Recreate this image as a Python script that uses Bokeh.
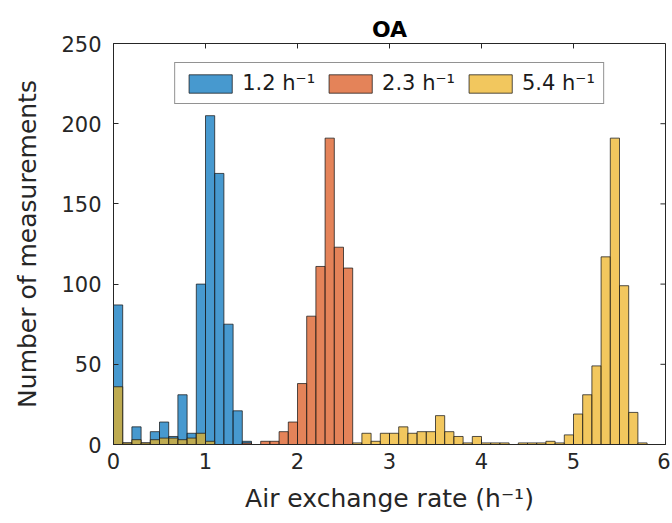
import numpy as np
from bokeh.plotting import figure
from bokeh.models import Range1d, FixedTicker, Legend, LegendItem, ColumnDataSource
from bokeh.embed import file_html
from bokeh.resources import INLINE

# Histogram bins: 0.0 .. 6.0 step 0.1 (60 bins)
bin_width = 0.1
bin_left = [round(i * bin_width, 1) for i in range(60)]

series_names = ["1.2 h\u207b\u00b9", "2.3 h\u207b\u00b9", "5.4 h\u207b\u00b9"]

counts_12 = [87, 1, 11, 1, 8, 14, 5, 31, 7, 100,
             205, 169, 75, 21, 2, 0, 0, 0, 0, 0,
             0, 0, 0, 0, 0, 0, 0, 0, 0, 0,
             0, 0, 0, 0, 0, 0, 0, 0, 0, 0,
             0, 0, 0, 0, 0, 0, 0, 0, 0, 0,
             0, 0, 0, 0, 0, 0, 0, 0, 0, 0]

counts_23 = [0, 0, 0, 0, 0, 0, 0, 0, 0, 0,
             0, 0, 0, 0, 1, 0, 2, 2, 8, 14,
             38, 80, 111, 191, 123, 110, 0, 0, 0, 0,
             0, 0, 0, 0, 0, 0, 0, 0, 0, 0,
             0, 0, 0, 0, 0, 0, 0, 0, 0, 0,
             0, 0, 0, 0, 0, 0, 0, 0, 0, 0]

counts_54 = [36, 1, 3, 1, 3, 4, 4, 3, 4, 7,
             2, 0, 0, 0, 0, 0, 0, 0, 0, 0,
             0, 0, 0, 0, 0, 0, 1, 7, 2, 7,
             7, 11, 7, 8, 8, 18, 8, 5, 1, 5,
             1, 1, 1, 0, 1, 1, 1, 2, 1, 6,
             19, 31, 49, 117, 191, 99, 20, 1, 0, 0]

x_ticks = [0, 1, 2, 3, 4, 5, 6]
y_ticks = [0, 50, 100, 150, 200, 250]

colors = ["#0072BD", "#D95319", "#EDB120"]
FONT = "DejaVu Sans"
AX = "#262626"

p = figure(width=670, height=518, output_backend="svg", toolbar_location=None,
           x_range=Range1d(x_ticks[0], x_ticks[-1]), y_range=Range1d(y_ticks[0], y_ticks[-1]),
           min_border_left=113, min_border_right=5, min_border_top=43, min_border_bottom=74)

p.background_fill_color = "white"
p.border_fill_color = "white"
p.xgrid.visible = False
p.ygrid.visible = False
p.outline_line_color = AX
p.outline_line_width = 1

left = np.array(bin_left)
items = []
for name, counts, col in zip(series_names, [counts_12, counts_23, counts_54], colors):
    src = ColumnDataSource(dict(left=left, right=left + bin_width, top=counts, bottom=[0] * len(counts)))
    r = p.quad(left="left", right="right", top="top", bottom="bottom", source=src,
               fill_color=col, fill_alpha=0.72, line_color="#1a1a1a", line_alpha=0.75, line_width=1)
    items.append(LegendItem(label=name, renderers=[r]))

legend = Legend(items=items, orientation="horizontal", location="top_center")
legend.label_text_font = FONT
legend.label_text_font_size = "21px"
legend.label_text_color = "#1a1a1a"
legend.glyph_width = 54
legend.glyph_height = 23
legend.label_standoff = 5
legend.spacing = 8
legend.padding = 8
legend.margin = 19
legend.border_line_color = AX
legend.border_line_width = 1
legend.background_fill_alpha = 1
p.add_layout(legend, "center")

for ax in [p.xaxis[0], p.yaxis[0]]:
    ax.major_label_text_font = FONT
    ax.major_label_text_font_size = "21px"
    ax.major_label_text_color = AX
    ax.axis_label_text_font = FONT
    ax.axis_label_text_font_size = "25px"
    ax.axis_label_text_font_style = "normal"
    ax.axis_label_text_color = AX
    ax.axis_line_color = AX
    ax.major_tick_line_color = AX
    ax.major_tick_in = 5
    ax.major_tick_out = 0
    ax.minor_tick_line_color = None

p.xaxis[0].ticker = FixedTicker(ticks=x_ticks)
p.yaxis[0].ticker = FixedTicker(ticks=y_ticks)
p.xaxis[0].axis_label = "Air exchange rate (h\u207b\u00b9)"
p.yaxis[0].axis_label = "Number of measurements"
p.xaxis[0].major_label_standoff = 8
p.yaxis[0].major_label_standoff = 12
p.xaxis[0].axis_label_standoff = 12
p.yaxis[0].axis_label_standoff = 16

# inward ticks on the top and right edges of the box (MATLAB "box on")
tick_dx = 0.055
tick_dy = 3.1
p.segment(x0=[x_ticks[-1]] * len(y_ticks), x1=[x_ticks[-1] - tick_dx] * len(y_ticks),
          y0=y_ticks, y1=y_ticks, line_color=AX, line_width=1)
p.segment(x0=x_ticks, x1=x_ticks, y0=[y_ticks[-1]] * len(x_ticks),
          y1=[y_ticks[-1] - tick_dy] * len(x_ticks), line_color=AX, line_width=1)

p.title.text = "OA"
p.title.align = "center"
p.title.text_font = FONT
p.title.text_font_size = "22px"
p.title.text_font_style = "bold"
p.title.text_color = "black"
p.title.standoff = 4

open("out.html", "w").write(file_html(p, INLINE))
